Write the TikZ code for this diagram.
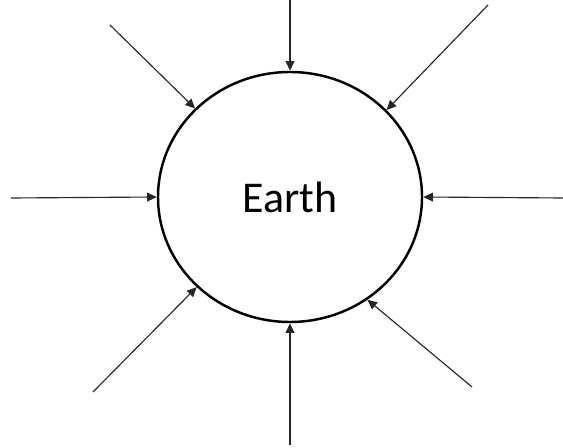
\documentclass[tikz,border=0pt]{standalone}
\usepackage{fontspec}
\setsansfont{Carlito}
\usepackage{tikz}
\usetikzlibrary{shapes.geometric,arrows.meta}

\begin{document}
\begin{tikzpicture}[
  x=0.02cm, y=-0.02cm,
  planet/.style={ellipse, draw, line width=1.4pt, inner sep=0pt, minimum width=264*0.02cm, minimum height=250*0.02cm, font=\sffamily\fontsize{25}{30}\selectfont},
  ray/.style={-{Triangle[length=5.5pt,width=5pt]}, line width=0.65pt, draw=black!85},
]
\useasboundingbox (0,0) rectangle (563,448);
% The planet
\node[planet] (earth) at (290,197) {Earth};

% Outer ends of the rays
\coordinate (n)  at (290,0);
\coordinate (nw) at (110,25);
\coordinate (ne) at (488,5);
\coordinate (w)  at (11,198);
\coordinate (e)  at (563,198);
\coordinate (sw) at (93,392);
\coordinate (s)  at (290,445);
\coordinate (se) at (472,387);

% Rays pointing in
\draw[ray] (n)  -- (earth.90);
\draw[ray] (nw) -- (earth.137);
\draw[ray] (ne) -- (earth.42);
\draw[ray] (w)  -- (earth.180);
\draw[ray] (e)  -- (earth.0);
\draw[ray] (sw) -- (earth.224);
\draw[ray] (s)  -- (earth.270);
\draw[ray] (se) -- (earth.307);
\end{tikzpicture}
\end{document}
